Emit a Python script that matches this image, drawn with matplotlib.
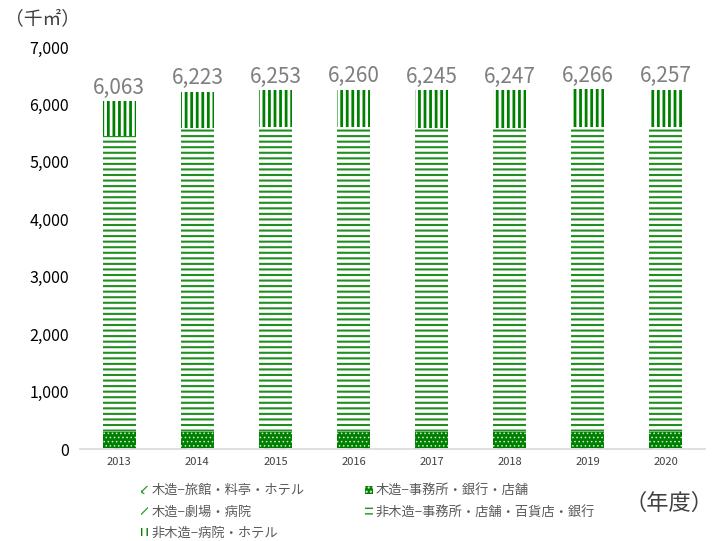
import numpy as np
import matplotlib
matplotlib.use("Agg")
import matplotlib.pyplot as plt

plt.rcParams['font.family'] = ['Noto Sans CJK JP', 'DejaVu Sans']

years = ['2013', '2014', '2015', '2016', '2017', '2018', '2019', '2020']

# 千㎡, bottom to top of each stack
wood_ryokan = [15, 15, 15, 15, 15, 15, 15, 15]
wood_office = [275, 275, 275, 275, 275, 275, 280, 280]
wood_theater = [5, 5, 5, 5, 5, 5, 5, 5]
nonwood_office = [5155, 5288, 5305, 5310, 5290, 5295, 5305, 5300]
nonwood_hospital = [613, 640, 653, 655, 660, 657, 661, 657]
totals = [6063, 6223, 6253, 6260, 6245, 6247, 6266, 6257]

# (label, values, bar style, hatch line width)
series = [
    ('木造−旅館・料亭・ホテル', wood_ryokan,
     dict(facecolor='white', edgecolor='#3aa63a', hatch='xx'), 1.0),
    ('木造−事務所・銀行・店舗', wood_office,
     dict(facecolor='#008000', edgecolor='#d6ecd6', hatch='....'), 0.6),
    ('木造−劇場・病院', wood_theater,
     dict(facecolor='white', edgecolor='#3aa63a', hatch='///'), 1.0),
    ('非木造−事務所・店舗・百貨店・銀行', nonwood_office,
     dict(facecolor='white', edgecolor='#1f8f1f', hatch='---'), 1.5),
    ('非木造−病院・ホテル', nonwood_hospital,
     dict(facecolor='white', edgecolor='#008000', hatch='|||'), 2.0),
]

fig = plt.figure(figsize=(7.23, 5.41), dpi=100)
ax = fig.add_axes([0.111, 0.170, 0.864, 0.743])

x = np.arange(len(years))
bottom = np.zeros(len(years))
handles = []
for name, vals, style, hlw in series:
    with plt.rc_context({'hatch.linewidth': hlw}):
        h = ax.bar(x, vals, 0.42, bottom=bottom, linewidth=0, label=name, **style)
    handles.append(h)
    bottom += np.array(vals)

for xi, t in zip(x, totals):
    ax.text(xi, t + 40, f'{t:,}', ha='center', va='bottom', fontsize=15, color='#7f7f7f')

ax.set_xlim(-0.5, len(years) - 0.5)
ax.set_ylim(0, 7000)
ax.set_yticks(np.arange(0, 7001, 1000))
ax.set_yticklabels([f'{v:,}' for v in range(0, 7001, 1000)], fontsize=11.5)
ax.set_xticks(x)
ax.set_xticklabels(years, fontsize=8, color='#404040')
ax.tick_params(axis='both', length=0)
ax.tick_params(axis='y', pad=8)
ax.tick_params(axis='x', pad=6)
for s in ['top', 'right', 'left']:
    ax.spines[s].set_visible(False)
ax.spines['bottom'].set_color('#d9d9d9')
ax.spines['bottom'].set_linewidth(1.2)

# two-column legend filled row by row
order = [0, 2, 4, 1, 3]
leg = fig.legend([handles[i] for i in order], [series[i][0] for i in order],
                 loc='upper left', bbox_to_anchor=(0.195, 0.105), ncol=2,
                 frameon=False, fontsize=9.5, handlelength=0.55, handleheight=0.55,
                 handletextpad=0.25, columnspacing=4.6, labelspacing=0.62,
                 borderpad=0, borderaxespad=0)
for t in leg.get_texts():
    t.set_color('#595959')

fig.text(0.007, 0.965, '（千㎡）', fontsize=13.5, color='#404040', va='center')
fig.text(0.987, 0.070, '（年度）', fontsize=16, color='#404040', ha='right', va='center')

fig.savefig('out.png', dpi=100)
